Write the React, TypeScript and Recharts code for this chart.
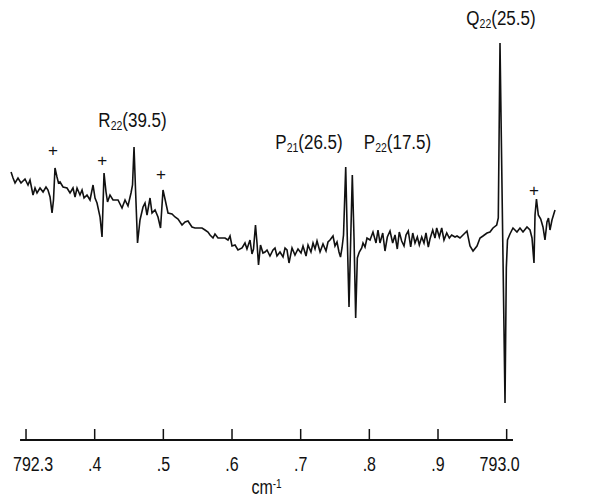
import { LineChart, Line, XAxis, YAxis, ReferenceLine, ReferenceDot } from "recharts"

// wavenumber (cm-1) of each sampled point of the trace
const wavenumber = [
  792.2782, 792.2811, 792.284, 792.2883, 792.2927, 792.2985, 792.3029, 792.3058, 792.3102, 792.3131,
  792.316, 792.3204, 792.3248, 792.3291, 792.332, 792.335, 792.3379, 792.34, 792.3422, 792.3451,
  792.3473, 792.3495, 792.3539, 792.3597, 792.3641, 792.3684, 792.3714, 792.3743, 792.3786, 792.3816,
  792.3845, 792.3888, 792.3932, 792.3976, 792.4005, 792.4034, 792.4078, 792.4107, 792.4136, 792.4165,
  792.4187, 792.4223, 792.4267, 792.4296, 792.434, 792.4398, 792.4442, 792.4485, 792.4529, 792.4551,
  792.4573, 792.4595, 792.4624, 792.466, 792.4704, 792.4733, 792.4762, 792.4806, 792.4835, 792.4879,
  792.4922, 792.4959, 792.4995, 792.5024, 792.5068, 792.5126, 792.517, 792.5214, 792.5272, 792.5316,
  792.5359, 792.5417, 792.5461, 792.5505, 792.5563, 792.5607, 792.565, 792.568, 792.5723, 792.5752,
  792.5796, 792.5854, 792.5898, 792.5942, 792.5971, 792.6, 792.6044, 792.6087, 792.6146, 792.6189,
  792.6218, 792.6262, 792.6291, 792.6313, 792.6342, 792.6364, 792.6386, 792.6415, 792.6451, 792.6481,
  792.651, 792.6553, 792.6597, 792.6626, 792.6655, 792.6699, 792.6743, 792.6772, 792.6801, 792.683,
  792.6874, 792.6917, 792.6961, 792.7005, 792.7034, 792.7078, 792.7107, 792.715, 792.718, 792.7209,
  792.7238, 792.7282, 792.7325, 792.7369, 792.7398, 792.7427, 792.7471, 792.75, 792.7529, 792.7558,
  792.758, 792.7602, 792.7624, 792.7656, 792.7679, 792.7704, 792.7729, 792.7752, 792.7777, 792.7801,
  792.7825, 792.7854, 792.7889, 792.7908, 792.7937, 792.7966, 792.801, 792.8053, 792.8097, 792.8126,
  792.8155, 792.8195, 792.8228, 792.8262, 792.8301, 792.834, 792.8374, 792.8407, 792.8436, 792.8471,
  792.8505, 792.8534, 792.8567, 792.8602, 792.8632, 792.8665, 792.8699, 792.8728, 792.8763, 792.8796,
  792.8825, 792.8859, 792.8883, 792.8923, 792.8956, 792.8981, 792.9019, 792.9054, 792.9087, 792.9127,
  792.9165, 792.9199, 792.9248, 792.9277, 792.932, 792.9364, 792.9422, 792.9466, 792.951, 792.9568,
  792.9612, 792.9655, 792.9714, 792.9757, 792.9801, 792.9855, 792.9878, 792.9903, 792.9976, 792.9995,
  793.0012, 793.0048, 793.0092, 793.015, 793.0194, 793.0238, 793.0296, 793.034, 793.0369, 793.0398,
  793.0413, 793.0434, 793.0461, 793.0496, 793.0529, 793.0558, 793.0587, 793.0609, 793.0631, 793.066,
  793.0704,
]

// signal, arbitrary units
const signal = [
  128, 122, 117, 122, 117, 121, 115, 120, 105, 112,
  107, 112, 108, 113, 110, 103, 87, 100, 132, 123,
  117, 118, 113, 112, 107, 112, 103, 112, 105, 110,
  102, 105, 100, 115, 102, 97, 83, 63, 127, 108,
  98, 105, 100, 100, 100, 92, 100, 94, 107, 115,
  153, 110, 57, 80, 93, 97, 85, 102, 87, 90,
  83, 72, 110, 101, 87, 86, 83, 81, 75, 78,
  79, 73, 72, 72, 72, 70, 68, 65, 62, 66,
  62, 62, 62, 60, 64, 54, 55, 50, 52, 57,
  51, 60, 46, 51, 75, 57, 35, 55, 47, 48,
  50, 44, 50, 52, 44, 48, 43, 52, 50, 37,
  52, 45, 51, 47, 54, 44, 55, 48, 57, 51,
  59, 48, 56, 49, 58, 60, 64, 54, 58, 48,
  43, 52, 65, 133, 62, -7, 62, 125, 62, -18,
  42, 48, 52, 57, 53, 62, 60, 68, 57, 70,
  57, 67, 49, 63, 69, 57, 65, 51, 68, 59,
  54, 65, 69, 53, 67, 57, 63, 55, 63, 57,
  67, 53, 61, 70, 62, 72, 63, 72, 60, 67,
  62, 65, 63, 64, 62, 65, 69, 54, 49, 54,
  62, 64, 67, 68, 72, 75, 82, 257, -103, 32,
  60, 66, 72, 68, 72, 68, 73, 70, 62, 37,
  85, 101, 85, 81, 73, 60, 78, 82, 70, 80,
  90,
]

const tickValues = [792.3, 792.4, 792.5, 792.6, 792.7, 792.8, 792.9, 793.0]
const tickLabels = ["792.3", ".4", ".5", ".6", ".7", ".8", ".9", "793.0"]

// line assignments
const bandNames = ["R", "P", "P", "Q"]
const bandSubs = ["22", "21", "22", "22"]
const bandJ = ["(39.5)", "(26.5)", "(17.5)", "(25.5)"]
const bandX = [792.4551, 792.7121, 792.841, 792.9917]
const bandY = [173, 151, 151, 275]

// "+" marks
const plusX = [792.3393, 792.4111, 792.4966, 793.0398]
const plusY = [150, 140, 126, 110]

const xDomain = [792.2621, 793.1403]
const yDomain = [-140, 300]
const axisSpan = [792.2913, 793.0092]

const data = wavenumber.map((w, i) => ({ w, s: signal[i] }))

const FONT = "'Liberation Sans', Arial, Helvetica, sans-serif"
const INK = "#111"

function AxisTick({ x, y, payload }: any) {
  let i = tickValues.indexOf(payload.value)
  if (i < 0) i = tickValues.findIndex((t) => Math.abs(t - payload.value) < 1e-6)
  const last = tickValues.length - 1
  // end labels sit inward of their tick, like the original
  const anchor = i === 0 ? "start" : i === last ? "end" : "middle"
  const tx = i === 0 ? x - 13 : i === last ? x + 13 : x
  return (
    <g>
      <line x1={x} x2={x} y1={y - 11} y2={y} stroke={INK} strokeWidth={1.5} />
      <text
        transform={`translate(${tx},${y + 31}) scale(1,1.25)`}
        textAnchor={anchor}
        fontSize={16}
        fontFamily={FONT}
        fill={INK}
      >
        {tickLabels[i]}
      </text>
    </g>
  )
}

const bandShape = (i: number) => (p: any) => (
  <text
    transform={`translate(${p.cx},${p.cy}) scale(1,1.15)`}
    textAnchor="middle"
    fontSize={17}
    fontFamily={FONT}
    fill={INK}
  >
    {bandNames[i]}
    <tspan fontSize={10.5} dy={3}>{bandSubs[i]}</tspan>
    <tspan dy={-3}>{bandJ[i]}</tspan>
  </text>
)

const plusShape = (p: any) => (
  <text x={p.cx} y={p.cy + 6} textAnchor="middle" fontSize={17} fontFamily={FONT} fill={INK}>
    +
  </text>
)

const unitShape = (p: any) => (
  <text
    transform={`translate(${p.cx},${p.cy}) scale(1,1.25)`}
    textAnchor="middle"
    fontSize={16}
    fontFamily={FONT}
    fill={INK}
  >
    cm
    <tspan fontSize={10} dy={-5}>-1</tspan>
  </text>
)

export default function App() {
  return (
    <div style={{ position: "absolute", left: 0, top: 0, background: "#fff" }}>
      <LineChart width={603} height={499} data={data} margin={{ top: 0, right: 0, bottom: 0, left: 0 }}>
        <XAxis
          dataKey="w"
          type="number"
          domain={xDomain}
          allowDataOverflow
          ticks={tickValues}
          interval={0}
          axisLine={false}
          tickLine={false}
          tickSize={0}
          tickMargin={0}
          height={59}
          tick={<AxisTick />}
        />
        <YAxis hide type="number" domain={yDomain} allowDataOverflow />
        <ReferenceLine
          segment={[
            { x: axisSpan[0], y: yDomain[0] },
            { x: axisSpan[1], y: yDomain[0] },
          ]}
          stroke={INK}
          strokeWidth={2}
          ifOverflow="visible"
        />
        <Line
          type="linear"
          dataKey="s"
          stroke={INK}
          strokeWidth={1.6}
          dot={false}
          activeDot={false}
          isAnimationActive={false}
        />
        {bandX.map((x, i) => (
          <ReferenceDot key={"b" + i} x={x} y={bandY[i]} r={0} ifOverflow="visible" shape={bandShape(i)} />
        ))}
        {plusX.map((x, i) => (
          <ReferenceDot key={"p" + i} x={x} y={plusY[i]} r={0} ifOverflow="visible" shape={plusShape} />
        ))}
        <ReferenceDot
          x={(axisSpan[0] + axisSpan[1]) / 2}
          y={-194}
          r={0}
          ifOverflow="visible"
          shape={unitShape}
        />
      </LineChart>
    </div>
  )
}
